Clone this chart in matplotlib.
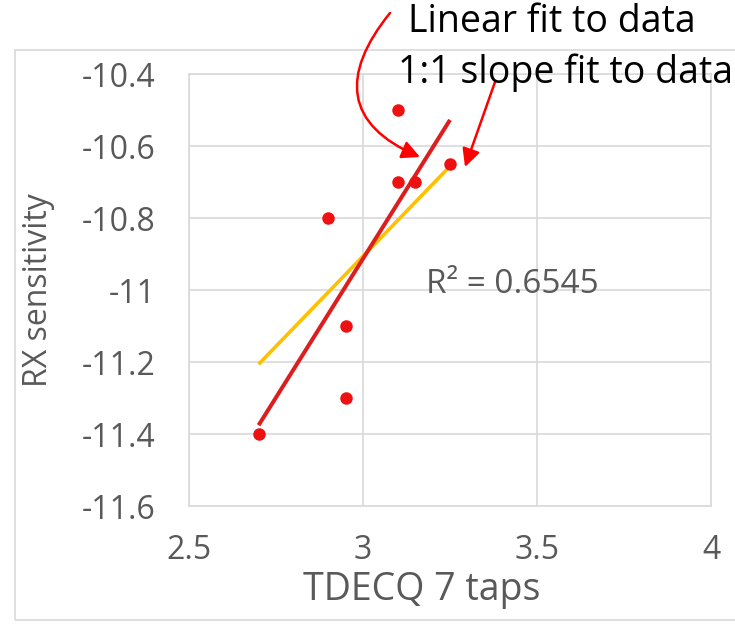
import numpy as np
import matplotlib
matplotlib.use('Agg')
import matplotlib.pyplot as plt
from matplotlib.patches import FancyArrowPatch, Rectangle
from matplotlib.path import Path

# data
tdecq = [3.1, 3.25, 3.1, 3.15, 2.9, 2.95, 2.95, 2.7]
rx_sens = [-10.5, -10.65, -10.7, -10.7, -10.8, -11.1, -11.3, -11.4]
x_ticks = [2.5, 3, 3.5, 4]
x_ticklabels = ['2.5', '3', '3.5', '4']
y_ticks = [-10.4, -10.6, -10.8, -11, -11.2, -11.4, -11.6]
y_ticklabels = ['-10.4', '-10.6', '-10.8', '-11', '-11.2', '-11.4', '-11.6']
r2_label = 'R² = 0.6545'

W, H = 735, 625
plt.rcParams['font.family'] = ['Open Sans', 'DejaVu Sans']
gray = '#595959'
grid = '#d9d9d9'

fig = plt.figure(figsize=(W / 100, H / 100), dpi=100)

def fx(px):
    return px / W

def fy(py):
    return 1 - py / H

# chart area border
fig.patches.append(Rectangle((fx(15), fy(620)), fx(740) - fx(15), fy(50) - fy(620),
                             transform=fig.transFigure, fill=False, ec=grid, lw=1.2))

ax = fig.add_axes([fx(189), fy(506), fx(711) - fx(189), fy(74) - fy(506)])

x = np.array(tdecq)
y = np.array(rx_sens)
xs = np.array([x.min(), x.max()])

# 1:1 slope fit
b1 = y.mean() - x.mean()
ax.plot(xs, xs + b1, color='#ffc000', lw=2.6, solid_capstyle='butt', zorder=3)
# linear fit
m, b = np.polyfit(x, y, 1)
ax.plot(xs, m * xs + b, color='#dc1e1e', lw=2.9, solid_capstyle='butt', zorder=4)

ax.plot(x, y, 'o', color='#ee1111', ms=9, mec='none', zorder=5)

ax.set_xlim(2.5, 4)
ax.set_ylim(-11.6, -10.4)
ax.set_xticks(x_ticks)
ax.set_xticklabels(x_ticklabels)
ax.set_yticks(y_ticks)
ax.set_yticklabels(y_ticklabels)
ax.tick_params(length=0, labelsize=23, labelcolor=gray)
ax.tick_params(axis='y', pad=24)
ax.tick_params(axis='x', pad=20)
ax.grid(True, color=grid, lw=1.2)
ax.set_axisbelow(True)
for s in ax.spines.values():
    s.set_color(grid)
    s.set_linewidth(1.2)

ax.set_xlabel('TDECQ 7 taps', fontsize=27, color=gray)
ax.set_ylabel('RX sensitivity', fontsize=23, color=gray)
ax.xaxis.label.set_va('center')
ax.yaxis.label.set_va('center')
ax.xaxis.set_label_coords(0.446, -0.194)
ax.yaxis.set_label_coords(-0.289, 0.5)

ax.text(3.43, -10.986, r2_label, fontsize=24, color=gray, ha='center', va='center')

# annotations
fig.text(fx(408), fy(32), 'Linear fit to data', fontsize=27, color='black', va='baseline')
fig.text(fx(398), fy(83), '1:1 slope fit to data', fontsize=27, color='black', va='baseline')

pts = [(390, 13), (340, 75), (345, 125), (420, 157)]
path = Path([(fx(px), fy(py)) for px, py in pts],
            [Path.MOVETO, Path.CURVE4, Path.CURVE4, Path.CURVE4])
fig.patches.append(FancyArrowPatch(path=path, arrowstyle='-|>', mutation_scale=27,
                                   color='red', lw=1.8, shrinkA=0, shrinkB=0,
                                   transform=fig.transFigure))
fig.patches.append(FancyArrowPatch((fx(495), fy(82)), (fx(465), fy(167)),
                                   arrowstyle='-|>', mutation_scale=27,
                                   color='red', lw=1.8, shrinkA=0, shrinkB=0,
                                   transform=fig.transFigure))

fig.savefig('out.png', dpi=100)
